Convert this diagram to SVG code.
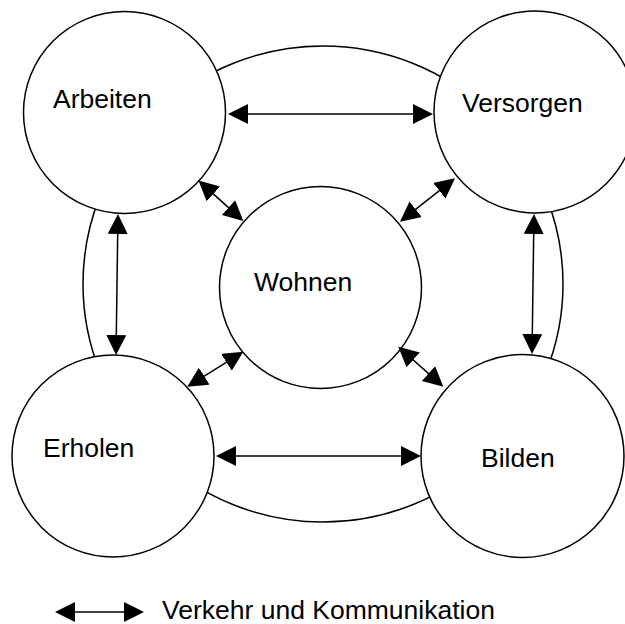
<svg xmlns="http://www.w3.org/2000/svg" width="625" height="624" viewBox="0 0 625 624">
<style>
.ring{fill:none;stroke:#000;stroke-width:1.5}
.node{fill:#fff;stroke:#000;stroke-width:1.5}
.lbl{font-family:"Liberation Sans",Arial,sans-serif;font-size:26.5px;fill:#000}
.con{stroke:#000;stroke-width:1.5;fill:none;marker-start:url(#ah);marker-end:url(#ah)}
</style>
<defs>
<marker id="ah" markerUnits="userSpaceOnUse" markerWidth="20" markerHeight="20" viewBox="0 0 20 20" refX="15" refY="10" orient="auto-start-reverse">
<path d="M0,0 L20,10 L0,20 Z" fill="#000"/>
</marker>
</defs>
<rect width="625" height="624" fill="#fff"/>
<ellipse class="ring" cx="323" cy="284" rx="240" ry="238"/>
<g id="arbeiten"><circle class="node" cx="124.5" cy="112.5" r="101"/><text class="lbl" x="53" y="108">Arbeiten</text></g>
<g id="versorgen"><circle class="node" cx="535" cy="112" r="101"/><text class="lbl" x="462" y="112">Versorgen</text></g>
<g id="erholen"><circle class="node" cx="113" cy="456" r="101"/><text class="lbl" x="43" y="457">Erholen</text></g>
<g id="bilden"><circle class="node" cx="522.5" cy="456" r="101.5"/><text class="lbl" x="481" y="467">Bilden</text></g>
<g id="wohnen"><circle class="node" cx="320.5" cy="287.5" r="101"/><text class="lbl" x="254" y="291">Wohnen</text></g>
<g id="connectors">
<line class="con" x1="233" y1="114" x2="428" y2="114"/>
<line class="con" x1="117.9" y1="219" x2="116.1" y2="350"/>
<line class="con" x1="533.9" y1="219" x2="532.1" y2="349"/>
<line class="con" x1="221" y1="456" x2="416" y2="456"/>
<line class="con" x1="202.2" y1="183.9" x2="239.6" y2="217.6"/>
<line class="con" x1="451.1" y1="181.4" x2="403.9" y2="218.6"/>
<line class="con" x1="239.1" y1="354.3" x2="191.5" y2="384.1"/>
<line class="con" x1="402" y1="350" x2="439.6" y2="383.4"/>
</g>
<g id="legend">
<line class="con" x1="60" y1="612" x2="139" y2="612"/>
<text class="lbl" x="162" y="619">Verkehr und Kommunikation</text>
</g>
</svg>
